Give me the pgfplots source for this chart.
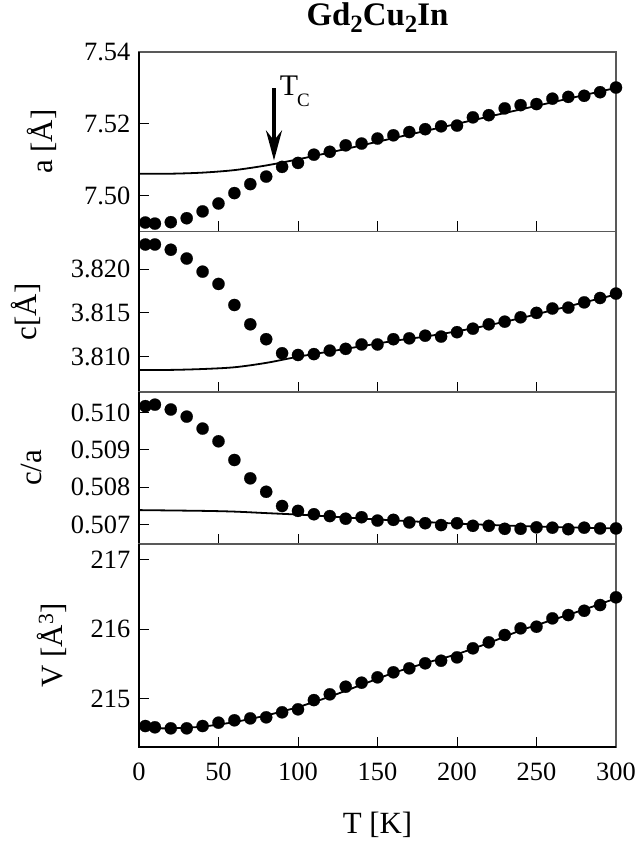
\documentclass[border=0pt]{standalone}
\usepackage{fontspec}
\setmainfont{Liberation Serif}
\usepackage{pgfplots}
\pgfplotsset{compat=1.18}
\usetikzlibrary{arrows.meta}

\pgfplotsset{
  panel/.style={
    width=477bp, scale only axis, xmin=0, xmax=300,
    xtick={0,50,...,300}, xtick pos=left, ytick pos=left,
    tick align=inside, major tick length=10bp,
    every tick/.style={black, line width=1bp},
    /pgf/number format/assume math mode=true,
    ticklabel style={font=\fontsize{26.5}{31}\selectfont},
    xticklabel style={anchor=north, yshift=-12.2bp},
    yticklabel style={anchor=east, xshift=-5.2bp},
    label style={font=\fontsize{31}{37}\selectfont},
    axis line style={line width=1.2bp, black!65},
    clip=false,
    after end axis/.code={
      \draw[black, line width=1.2bp] (rel axis cs:0,1) -- (rel axis cs:0,0) -- (rel axis cs:1,0);
    },
  },
  fit/.style={black, line width=1.8bp, smooth, no marks},
  dots/.style={only marks, mark=*, mark size=6.1bp, mark options={black, fill=black, line width=0.2bp}},
}

\begin{document}
\begin{tikzpicture}[x=1bp,y=1bp]
\path (-139bp,52bp) rectangle (498bp,-790bp);

% ---------- panel 1: a ----------
\begin{axis}[panel, name=p1, at={(0,0)}, anchor=north west, height=179.5bp,
  ymin=7.490, ymax=7.540, ytick={7.50,7.52,7.54},
  yticklabel style={/pgf/number format/.cd, fixed, fixed zerofill, precision=2},
  xticklabels={},
  ylabel={a [Å]}, ylabel style={at={(axis description cs:-0.1803,0.5)}, anchor=base},
  title={\fontsize{33}{40}\selectfont\bfseries Gd\raisebox{-6.5bp}{\fontsize{25}{25}\selectfont 2}Cu\raisebox{-6.5bp}{\fontsize{25}{25}\selectfont 2}In},
  title style={at={(axis description cs:0.5,1)}, anchor=base, yshift=20.3bp, inner sep=0pt},
]
\addplot[fit] coordinates {
(0,7.5061) (20,7.5061) (40,7.5064) (60,7.5071) (80,7.5084) (100,7.5101)
(120,7.5120) (140,7.5140) (160,7.5160) (180,7.5180) (200,7.5200)
(220,7.5220) (240,7.5240) (260,7.5260) (280,7.5280) (300,7.5300)};
\addplot[dots] coordinates {
(4,7.4925) (10,7.4922) (20,7.4926) (30,7.4937) (40,7.4956) (50,7.4978)
(60,7.5007) (70,7.5032) (80,7.5053) (90,7.5080) (100,7.5091) (110,7.5114)
(120,7.5122) (130,7.5140) (140,7.5145) (150,7.5159) (160,7.5168) (170,7.5177)
(180,7.5185) (190,7.5193) (200,7.5195) (210,7.5218) (220,7.5224) (230,7.5243)
(240,7.5252) (250,7.5255) (260,7.5270) (270,7.5275) (280,7.5278) (290,7.5288)
(300,7.5301)};
\draw[-{Stealth[length=30bp,width=16bp,inset=10bp]}, line width=3.8bp, black]
  (axis cs:84.9,7.5299) -- (axis cs:84.9,7.5098);
\node[anchor=base west, inner sep=0, font=\fontsize{30}{36}\selectfont]
  at (axis cs:88.5,7.5280) {T\kern-1bp\raisebox{-11bp}{\fontsize{19}{20}\selectfont C}};
\end{axis}

% ---------- panel 2: c ----------
\begin{axis}[panel, name=p2, at={(p1.south west)}, anchor=north west, height=160.5bp,
  ymin=3.80598, ymax=3.82428, ytick={3.810,3.815,3.820},
  yticklabel style={/pgf/number format/.cd, fixed, fixed zerofill, precision=3},
  xticklabels={},
  ylabel={c[Å]}, ylabel style={at={(axis description cs:-0.2159,0.5)}, anchor=base},
]
\addplot[fit] coordinates {
(0,3.8085) (20,3.8085) (40,3.8086) (60,3.8088) (80,3.8093) (100,3.8100)
(120,3.8106) (140,3.8112) (160,3.8118) (180,3.8123) (200,3.8129)
(220,3.8136) (240,3.8144) (260,3.8153) (280,3.8162) (300,3.8171)};
\addplot[dots] coordinates {
(4,3.8228) (10,3.8228) (20,3.8222) (30,3.8212) (40,3.8197) (50,3.8183)
(60,3.8159) (70,3.8137) (80,3.8120) (90,3.8104) (100,3.8102) (110,3.8103)
(120,3.8107) (130,3.8109) (140,3.8114) (150,3.8114) (160,3.8120) (170,3.8121)
(180,3.8124) (190,3.8123) (200,3.8128) (210,3.8132) (220,3.8137) (230,3.8140)
(240,3.8145) (250,3.8150) (260,3.8155) (270,3.8156) (280,3.8162) (290,3.8167)
(300,3.8172)};
\end{axis}

% ---------- panel 3: c/a ----------
\begin{axis}[panel, name=p3, at={(p2.south west)}, anchor=north west, height=152bp,
  ymin=0.506484, ymax=0.510548, ytick={0.507,0.508,0.509,0.510},
  yticklabel style={/pgf/number format/.cd, fixed, fixed zerofill, precision=3},
  xticklabels={},
  ylabel={c/a}, ylabel style={at={(axis description cs:-0.2034,0.5)}, anchor=base},
]
\addplot[fit] coordinates {
(0,0.50739) (40,0.50737) (60,0.50735) (80,0.50731) (100,0.50727) (120,0.50722)
(150,0.50714) (200,0.50703) (250,0.50695) (300,0.50690)};
\addplot[dots] coordinates {
(4,0.51017) (10,0.51021) (20,0.51008) (30,0.50989) (40,0.50957) (50,0.50923)
(60,0.50873) (70,0.50824) (80,0.50788) (90,0.50750) (100,0.50737) (110,0.50728)
(120,0.50723) (130,0.50716) (140,0.50720) (150,0.50711) (160,0.50713) (170,0.50706)
(180,0.50704) (190,0.50699) (200,0.50704) (210,0.50697) (220,0.50697) (230,0.50689)
(240,0.50689) (250,0.50693) (260,0.50692) (270,0.50688) (280,0.50692) (290,0.50690)
(300,0.50690)};
\end{axis}

% ---------- panel 4: V ----------
\begin{axis}[panel, name=p4, at={(p3.south west)}, anchor=north west, height=203bp,
  ymin=214.307, ymax=217.22, ytick={215,216,217},
  ylabel={V [Å\textsuperscript{3}]}, ylabel style={at={(axis description cs:-0.1614,0.5)}, anchor=base},
  xlabel={T [K]}, xlabel style={at={(axis description cs:0.5,0)}, anchor=base, yshift=-86bp},
]
\addplot[fit] coordinates {
(0,214.58) (20,214.575) (40,214.60) (60,214.665) (80,214.76) (100,214.88)
(120,215.03) (140,215.20) (160,215.37) (180,215.51) (200,215.64)
(220,215.80) (240,215.98) (260,216.13) (280,216.28) (300,216.44)};
\addplot[dots] coordinates {
(4,214.608) (10,214.590) (20,214.575) (30,214.575) (40,214.608) (50,214.656)
(60,214.690) (70,214.718) (80,214.733) (90,214.805) (100,214.848) (110,214.980)
(120,215.063) (130,215.172) (140,215.230) (150,215.307) (160,215.379) (170,215.436)
(180,215.508) (190,215.545) (200,215.593) (210,215.723) (220,215.809) (230,215.914)
(240,216.010) (250,216.033) (260,216.153) (270,216.200) (280,216.262) (290,216.344)
(300,216.455)};
\end{axis}
\end{tikzpicture}
\end{document}
